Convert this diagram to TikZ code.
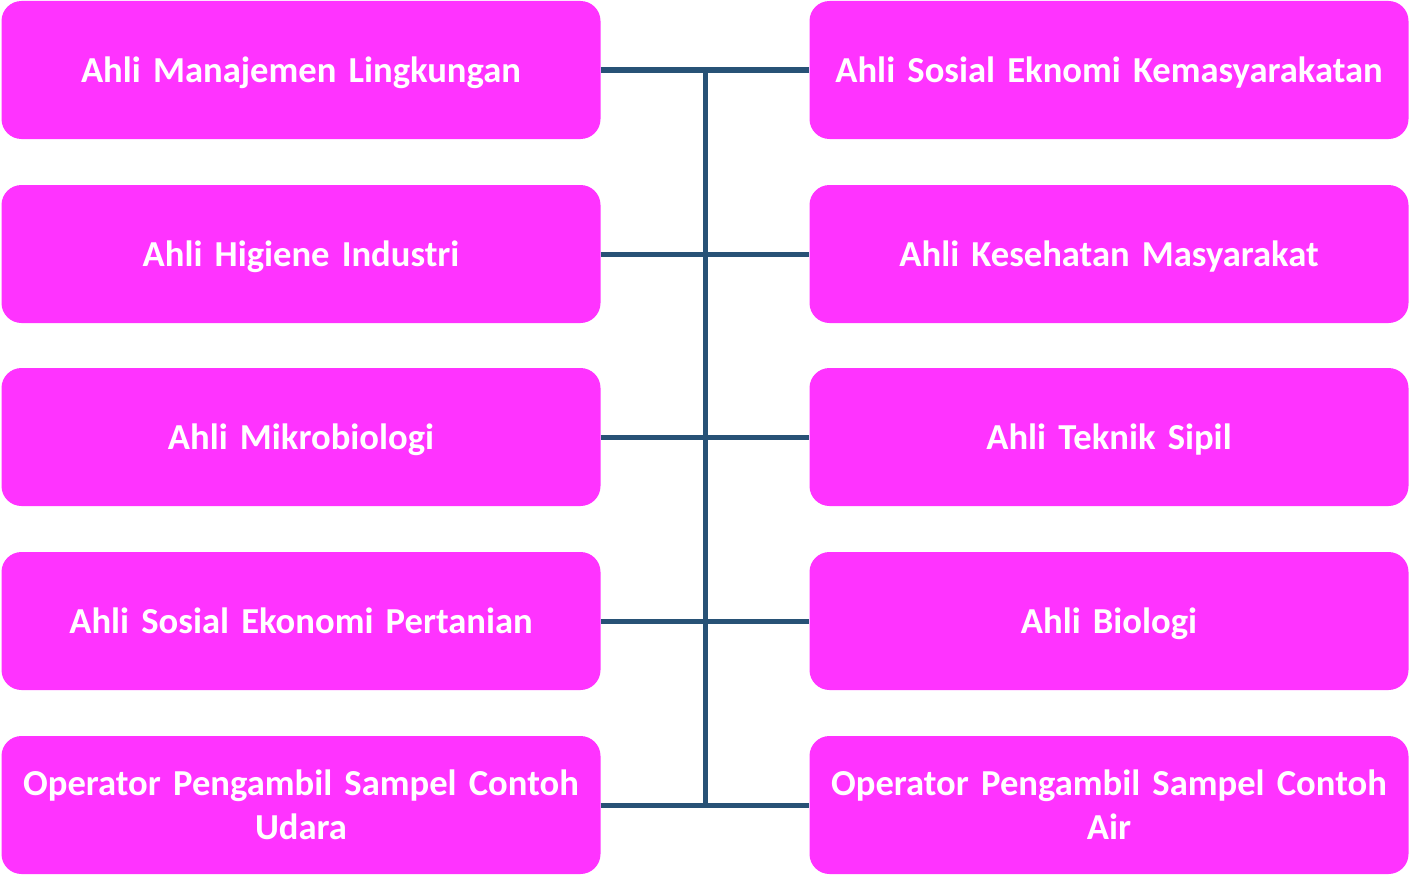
\documentclass[tikz,border=0pt]{standalone}
\usepackage{fontspec}
\setmainfont{Carlito}
\definecolor{boxpink}{RGB}{255,51,255}
\definecolor{linkblue}{RGB}{40,82,118}
\begin{document}
\begin{tikzpicture}[x=1pt,y=-1pt,
  rolebox/.style={fill=boxpink,draw=none,rounded corners=20pt,minimum width=599pt,minimum height=138pt,
    text=white,font=\bfseries\fontsize{36.6}{44}\selectfont,align=center,text width=590pt,inner sep=0pt},
  oneline/.style={rolebox,text height=30pt,text depth=6pt},
  link/.style={draw=linkblue,line width=5pt}]
\useasboundingbox (0,0) rectangle (1410,875);
\node[oneline] (l1) at (301,70) {Ahli Manajemen Lingkungan};
\node[oneline] (l2) at (301,254) {Ahli Higiene Industri};
\node[oneline] (l3) at (301,437) {Ahli Mikrobiologi};
\node[oneline] (l4) at (301,621) {Ahli Sosial Ekonomi Pertanian};
\node[rolebox] (l5) at (301,805) {Operator Pengambil Sampel Contoh\\Udara};
\node[oneline] (r1) at (1109,70) {Ahli Sosial Eknomi Kemasyarakatan};
\node[oneline] (r2) at (1109,254) {Ahli Kesehatan Masyarakat};
\node[oneline] (r3) at (1109,437) {Ahli Teknik Sipil};
\node[oneline] (r4) at (1109,621) {Ahli Biologi};
\node[rolebox] (r5) at (1109,805) {Operator Pengambil Sampel Contoh\\Air};
\coordinate (top) at (705,70);
\coordinate (bot) at (705,805);
\draw[link] (top) -- (bot);
\foreach \i in {1,...,5} {\draw[link] (l\i.east) -- (r\i.west);}
\end{tikzpicture}
\end{document}
